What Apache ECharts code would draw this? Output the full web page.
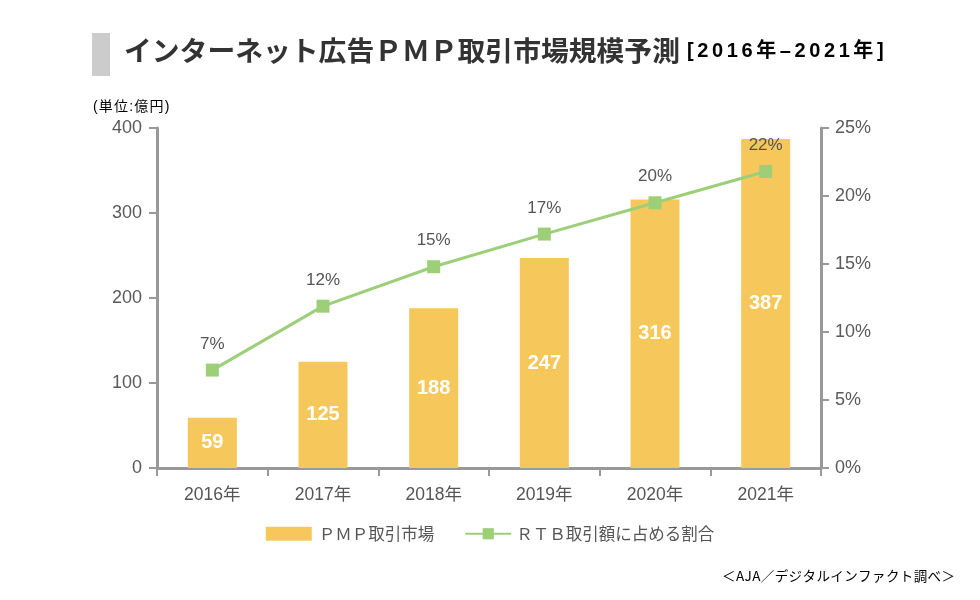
<!DOCTYPE html>
<html><head><meta charset="utf-8">
<script src="https://cdn.jsdelivr.net/npm/echarts@6/dist/echarts.min.js"></script>
<style>html,body{margin:0;padding:0;background:#fff}#c{width:980px;height:600px}</style>
</head><body><div id="c"></div>
<script>
const categories = ['2016年','2017年','2018年','2019年','2020年','2021年'];
const pmpValues = [59, 125, 188, 247, 316, 387];
const rtbShare = [7.2, 11.9, 14.8, 17.2, 19.5, 21.8];
const rtbLabels = ['7%','12%','15%','17%','20%','22%'];
const leftTicks = [0, 100, 200, 300, 400];
const rightTicks = [0, 5, 10, 15, 20, 25];

const FONT = "'Liberation Sans','Noto Sans CJK JP',sans-serif";
// letter-spaced rich text helper
function spaced(s, key) { return s.split('').map(c => '{' + key + '|' + c + '}').join(''); }

const chart = echarts.init(document.getElementById('c'));
chart.setOption({
  animation: false,
  textStyle: {fontFamily: FONT},
  graphic: [
    {type:'rect', left:92, top:33, shape:{width:18, height:43}, style:{fill:'#cccccc'}},
    {type:'text', left:124, top:37, style:{text:'インターネット広告ＰＭＰ取引市場規模予測', font:"bold 27.8px 'Noto Sans CJK JP'", fill:'#333'}},
    {type:'text', left:687, top:41, style:{text: spaced('[2016年–2021年]', 's'),
      rich:{s:{fontSize:20, fontWeight:'bold', fontFamily:FONT, color:'#333', padding:[0,1.8,0,1.8]}}}},
    {type:'text', left:93, top:100, style:{text: spaced('(単位:億円)', 'u'),
      rich:{u:{fontSize:14, fontFamily:FONT, color:'#555', padding:[0,0.6,0,0.6]}}}},
    {type:'text', right:25, top:569, style:{text: spaced('＜AJA／デジタルインファクト調べ＞', 'f'),
      rich:{f:{fontSize:13.5, fontFamily:"'Noto Sans CJK JP'", color:'#666', padding:[0,0.2,0,0.2]}}}}
  ],
  legend: {
    bottom: 53, left: 'center', itemGap: 30, itemWidth: 46, itemHeight: 14,
    textStyle: {fontSize: 16.5, color: '#555', fontFamily: "'Noto Sans CJK JP'"},
    data: [
      {name:'ＰＭＰ取引市場', icon:'rect', textStyle:{padding:[0,0,0,2]}},
      {name:'ＲＴＢ取引額に占める割合', textStyle:{padding:[0,0,0,0]}}
    ]
  },
  grid: {left:157, right:159, top:128, bottom:132},
  xAxis: {
    type:'category', data: categories,
    axisLine: {lineStyle:{color:'#999', width:3}},
    axisTick: {show:true, length:8, lineStyle:{color:'#999', width:2}},
    axisLabel: {color:'#555', fontSize:17.5, margin:18}
  },
  yAxis: [
    {type:'value', min:0, max:400, interval:100,
     axisLine:{show:true, lineStyle:{color:'#999', width:3}},
     axisTick:{show:true, length:8, lineStyle:{color:'#999', width:2}},
     splitLine:{show:false},
     axisLabel:{color:'#5a5a5a', fontSize:18, margin:15}},
    {type:'value', min:0, max:25, interval:5, position:'right',
     axisLine:{show:true, lineStyle:{color:'#999', width:3}},
     axisTick:{show:true, length:8, lineStyle:{color:'#999', width:2}},
     splitLine:{show:false},
     axisLabel:{color:'#5a5a5a', fontSize:18, margin:14, formatter:'{value}%'}}
  ],
  series: [
    {name:'ＰＭＰ取引市場', type:'bar', data: pmpValues, barWidth:49,
     itemStyle:{color:'#F6C85B'},
     label:{show:true, position:'inside', color:'#fff', fontSize:20, fontWeight:'bold'}},
    {name:'ＲＴＢ取引額に占める割合', type:'line', yAxisIndex:1, data: rtbShare,
     symbol:'rect', symbolSize:13,
     lineStyle:{color:'#9CCF78', width:3},
     itemStyle:{color:'#9CCF78'},
     label:{show:true, position:'top', distance:11, color:'#555', fontSize:17,
       formatter: p => rtbLabels[p.dataIndex]}}
  ]
});
</script></body></html>
